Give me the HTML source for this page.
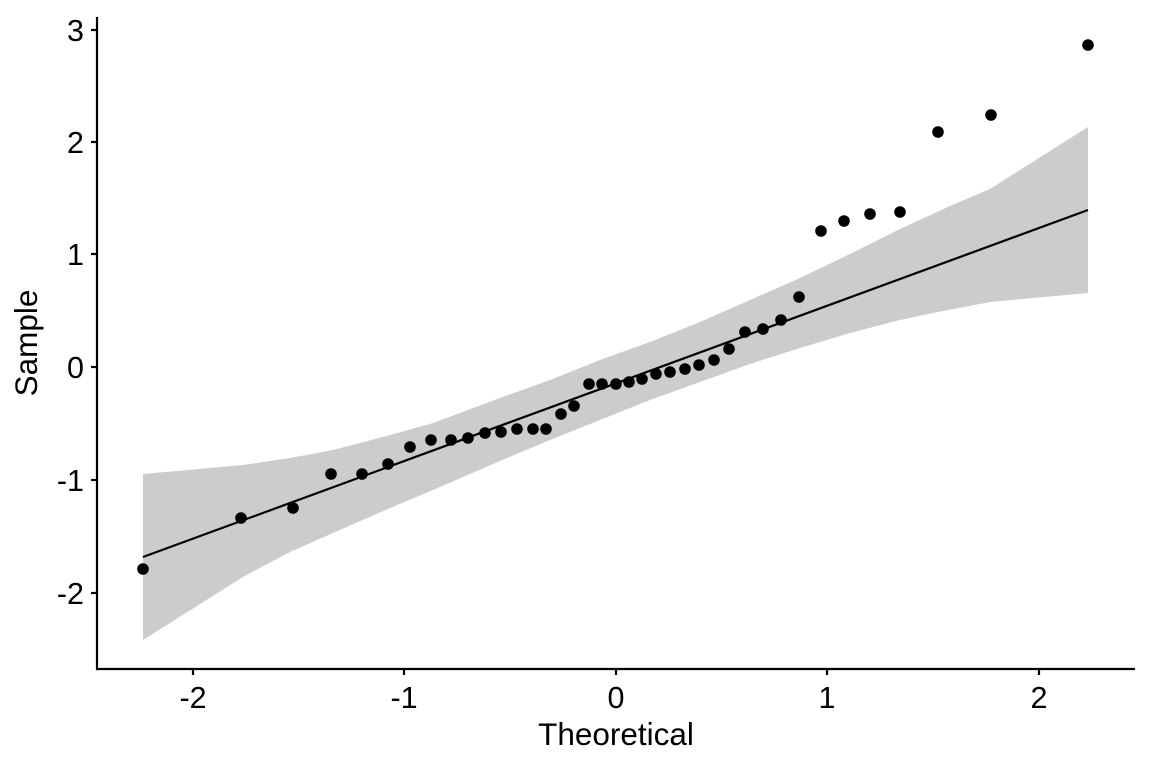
<!DOCTYPE html>
<html><head><meta charset="utf-8"><style>body{margin:0;background:#fff}svg{display:block}text{font-family:"Liberation Sans",sans-serif;fill:#000}</style></head>
<body>
<svg width="1152" height="768" viewBox="0 0 1152 768" xmlns="http://www.w3.org/2000/svg">
<polygon fill="#cccccc" points="143,474 243,465 290,458 333,450 383,437 433,423 500,398 550,380 600,360 650,342 700,322 750,300 800,278 850,254 900,229 950,206 990,189 1088,127 1088,293 990,302 933,313 900,320 850,333 800,348 750,364 700,382 650,400 600,420 550,440 500,461 433,490 383,511 333,533 290,552 243,577 143,640"/>
<line x1="143" y1="557" x2="1088" y2="210" stroke="#000" stroke-width="2.2"/>
<g fill="#000">
<circle cx="143" cy="569" r="5.8"/><circle cx="241" cy="518" r="5.8"/><circle cx="293" cy="508" r="5.8"/><circle cx="331" cy="474" r="5.8"/><circle cx="362" cy="474" r="5.8"/><circle cx="388" cy="464" r="5.8"/><circle cx="410" cy="447" r="5.8"/><circle cx="431" cy="440" r="5.8"/><circle cx="451" cy="440" r="5.8"/><circle cx="468" cy="438" r="5.8"/><circle cx="485" cy="433" r="5.8"/><circle cx="501" cy="432" r="5.8"/><circle cx="517" cy="429" r="5.8"/><circle cx="533" cy="429" r="5.8"/><circle cx="546" cy="429" r="5.8"/><circle cx="561" cy="414" r="5.8"/><circle cx="574" cy="406" r="5.8"/><circle cx="589" cy="384" r="5.8"/><circle cx="602" cy="384" r="5.8"/><circle cx="616" cy="384" r="5.8"/><circle cx="629" cy="382" r="5.8"/><circle cx="642" cy="379" r="5.8"/><circle cx="656" cy="374" r="5.8"/><circle cx="670" cy="372" r="5.8"/><circle cx="685" cy="369" r="5.8"/><circle cx="699" cy="365" r="5.8"/><circle cx="714" cy="360" r="5.8"/><circle cx="729" cy="349" r="5.8"/><circle cx="745" cy="332" r="5.8"/><circle cx="763" cy="329" r="5.8"/><circle cx="781" cy="320" r="5.8"/><circle cx="799" cy="297" r="5.8"/><circle cx="821" cy="231" r="5.8"/><circle cx="844" cy="221" r="5.8"/><circle cx="870" cy="214" r="5.8"/><circle cx="900" cy="212" r="5.8"/><circle cx="938" cy="132" r="5.8"/><circle cx="991" cy="115" r="5.8"/><circle cx="1088" cy="45" r="5.8"/>
</g>
<g stroke="#000" stroke-width="2.2">
<line x1="97" y1="17" x2="97" y2="670"/><line x1="96" y1="669" x2="1135" y2="669"/>
<line x1="91" y1="30" x2="97" y2="30"/><line x1="91" y1="142" x2="97" y2="142"/><line x1="91" y1="254" x2="97" y2="254"/><line x1="91" y1="367" x2="97" y2="367"/><line x1="91" y1="480" x2="97" y2="480"/><line x1="91" y1="593" x2="97" y2="593"/>
<line x1="193" y1="669" x2="193" y2="675"/><line x1="404" y1="669" x2="404" y2="675"/><line x1="616" y1="669" x2="616" y2="675"/><line x1="827" y1="669" x2="827" y2="675"/><line x1="1039" y1="669" x2="1039" y2="675"/>
</g>
<g font-size="30.5" text-anchor="end">
<text x="84" y="41">3</text><text x="84" y="153">2</text><text x="84" y="265">1</text><text x="84" y="378">0</text><text x="84" y="491">-1</text><text x="84" y="604">-2</text>
</g>
<g font-size="30.5" text-anchor="middle">
<text x="193" y="708">-2</text><text x="404" y="708">-1</text><text x="616" y="708">0</text><text x="827" y="708">1</text><text x="1039" y="708">2</text>
<text x="616" y="745" font-size="31.5">Theoretical</text>
<text transform="translate(37,343) rotate(-90)" font-size="31.5">Sample</text>
</g>
</svg>
</body></html>
